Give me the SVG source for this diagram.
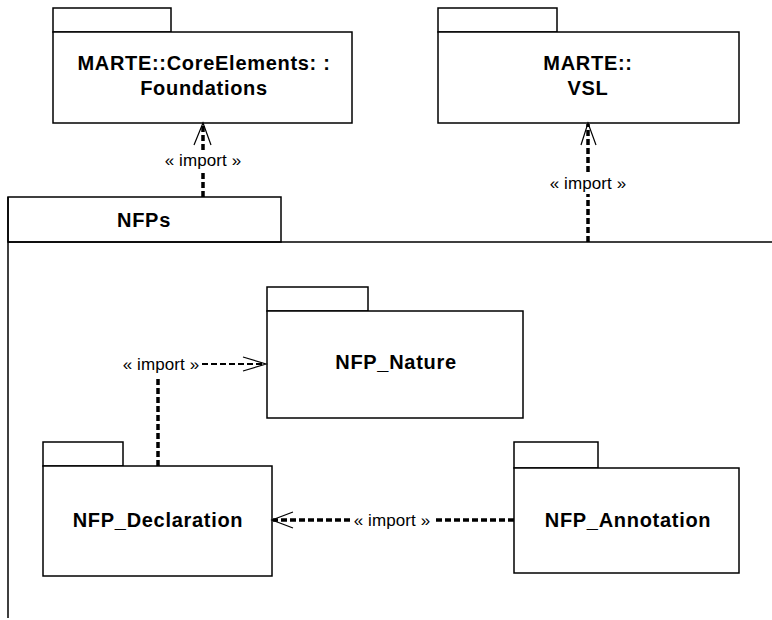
<svg xmlns="http://www.w3.org/2000/svg" width="772" height="620" viewBox="0 0 772 620">
<style>
.box{fill:#fff;stroke:#000;stroke-width:1.5}
.frame{fill:none;stroke:#000;stroke-width:1.5}
.name{font-family:"Liberation Sans",Arial,sans-serif;font-weight:bold;font-size:20px;letter-spacing:0.7px;text-anchor:middle;fill:#000}
.lbl{font-family:"Liberation Sans",Arial,sans-serif;font-size:17px;letter-spacing:0.1px;text-anchor:middle;fill:#000}
.dep{fill:none;stroke:#000;stroke-width:3.5;stroke-dasharray:6 3}
.depthin{fill:none;stroke:#000;stroke-width:2;stroke-dasharray:6 3}
.head{fill:none;stroke:#000;stroke-width:1.2}
</style>
<rect width="772" height="620" fill="#fff"/>
<g id="NFPs">
<rect class="box" x="8" y="197" width="273" height="45"/>
<path class="frame" d="M8 242 H772 M8 197 V618"/>
<text class="name" x="144" y="227">NFPs</text>
</g>
<g id="Foundations">
<rect class="box" x="53" y="8" width="118" height="24"/>
<rect class="box" x="53" y="32" width="299" height="91"/>
<text class="name" x="204" y="70">MARTE::CoreElements: :</text>
<text class="name" x="204" y="95">Foundations</text>
</g>
<g id="VSL">
<rect class="box" x="438" y="8" width="119" height="24"/>
<rect class="box" x="438" y="32" width="301" height="91"/>
<text class="name" x="588" y="70">MARTE::</text>
<text class="name" x="588" y="95">VSL</text>
</g>
<g id="NFP_Nature">
<rect class="box" x="267" y="287" width="101" height="24"/>
<rect class="box" x="267" y="311" width="256" height="107"/>
<text class="name" x="396" y="369">NFP_Nature</text>
</g>
<g id="NFP_Declaration">
<rect class="box" x="43" y="442" width="80" height="24"/>
<rect class="box" x="43" y="466" width="229" height="110"/>
<text class="name" x="158" y="527">NFP_Declaration</text>
</g>
<g id="NFP_Annotation">
<rect class="box" x="514" y="442" width="84" height="26"/>
<rect class="box" x="514" y="468" width="225" height="105"/>
<text class="name" x="628" y="527">NFP_Annotation</text>
</g>
<g id="connectors">
<path class="dep" d="M203 197 V171 M203 150 V124"/>
<path class="head" d="M194 145 L203 123 L211 145"/>
<text class="lbl" x="203" y="166">« import »</text>
<path class="dep" d="M588 242 V194 M588 172 V124"/>
<path class="head" d="M581 145 L588 123 L596 145"/>
<text class="lbl" x="588" y="189">« import »</text>
<path class="dep" d="M158 466 V378"/>
<text class="lbl" x="161" y="370">« import »</text>
<path class="depthin" d="M202 364 H264"/>
<path class="head" d="M243 357 L266 364 L243 371"/>
<path class="dep" d="M514 520 H434 M350 520 H273"/>
<path class="head" d="M293 512 L272 520 L293 528"/>
<text class="lbl" x="392" y="526">« import »</text>
</g>
</svg>
